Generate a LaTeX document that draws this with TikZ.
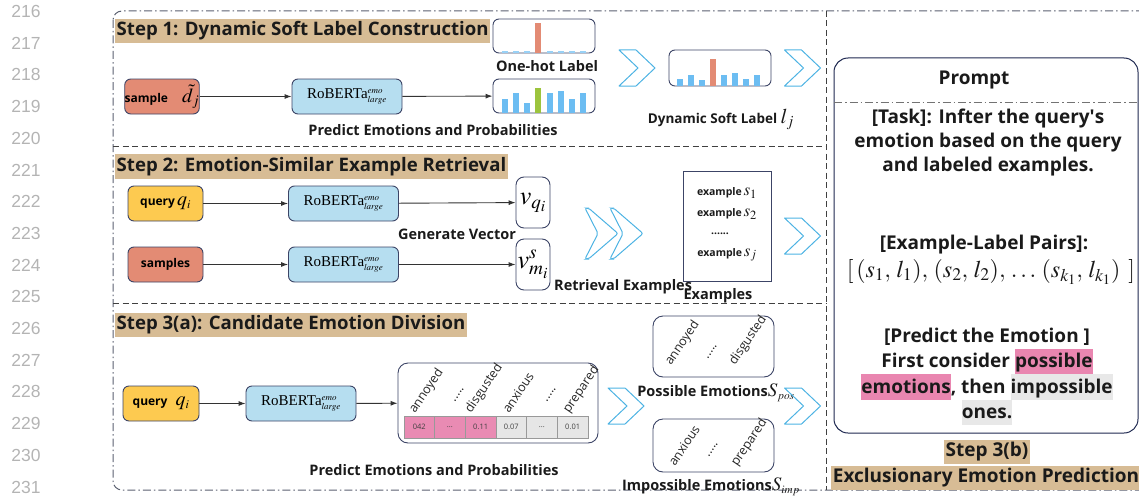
\documentclass[tikz,border=0pt]{standalone}
\usepackage{mathptmx}
\usepackage{amsmath}
\usepackage{fontspec}
\setmainfont{Open Sans}
\newfontfamily\tms{Liberation Serif}
\newfontfamily\numfont{Liberation Sans}
\usetikzlibrary{arrows.meta}

\definecolor{hdrtan}{HTML}{D7BC95}
\definecolor{salmon}{HTML}{E38B74}
\definecolor{qyellow}{HTML}{FDCA50}
\definecolor{robblue}{HTML}{B6DEF0}
\definecolor{nodeline}{HTML}{3C4466}
\definecolor{barblue}{HTML}{6CBDF2}
\definecolor{bargreen}{HTML}{9CC43D}
\definecolor{barred}{HTML}{E38B74}
\definecolor{chevblue}{HTML}{4DB3E3}
\definecolor{framegray}{HTML}{5A6070}
\definecolor{navy}{HTML}{1E2850}
\definecolor{hlpink}{HTML}{E986B0}
\definecolor{hlgray}{HTML}{E8E8E8}
\definecolor{cellpink}{HTML}{E98BB3}
\definecolor{cellgray}{HTML}{E6E6E6}
\definecolor{txt}{HTML}{1A1A1A}
\definecolor{numgray}{HTML}{B4B4B4}

\newcommand\fsz[2]{\fontsize{#1pt}{#2pt}\selectfont}
\newcommand\robm{{\tms RoBERTa}$^{\scriptscriptstyle\mathit{emo}}_{\scriptscriptstyle\mathit{large}}$}
\newcommand\hlp[1]{{\setlength\fboxsep{0pt}\colorbox{hlpink}{\rule[-6.5pt]{0pt}{25.6pt}#1}}}
\newcommand\hlg[1]{{\setlength\fboxsep{0pt}\colorbox{hlgray}{\rule[-6.5pt]{0pt}{25.6pt}#1}}}
\newcommand\celldots{...}
\newcommand\sq{{\addfontfeature{Ligatures=TeXOff}'}}

\begin{document}
\begin{tikzpicture}[x=1pt,y=-1pt,
  hdr/.style={fill=hdrtan, text=txt, font=\fsz{18.6}{22}\bfseries, inner xsep=1.5pt,
    inner ysep=3pt, text height=14pt, text depth=4.5pt},
  box/.style={draw=nodeline, line width=0.9pt, rounded corners=6pt, inner sep=0pt},
  robnode/.style={box, fill=robblue, minimum width=110pt, minimum height=35pt, font=\fsz{15}{16}},
  lbl/.style={text=txt, font=\fsz{14.5}{17}\bfseries, inner sep=0pt},
  ptext/.style={text=txt, font=\fsz{19}{24}\bfseries, inner sep=0pt, align=center},
  arr/.style={-{Latex[length=7pt,width=5pt]}, line width=0.9pt, draw=black!80},
  chevline/.style={draw=chevblue, line width=1pt},
  sepline/.style={draw=black!75, line width=0.9pt, dash pattern=on 6pt off 3.5pt},
  framestyle/.style={draw=framegray, line width=1pt, dash pattern=on 8pt off 3pt on 1.5pt off 3pt},
  cell/.style={draw=black!40, line width=0.6pt, minimum width=30.67pt, minimum height=22pt,
    inner sep=0pt, font=\fsz{7.5}{9}, text=black!75},
  rotlbl/.style={rotate=56, anchor=base west, inner sep=0pt, font=\fsz{12.5}{14}, text=black!85},
  chevron/.pic={\draw[chevline, line join=round] (-18,-18) -- (-1,-18) -- (18,0) -- (-1,18) -- (-18,18) -- (1,0) -- cycle;},
  slimchev/.pic={\draw[chevline, rounded corners=2pt] (-16.5,-25.5) -- (-13,-25.5) -- (16.5,0) -- (-13,25.5) -- (-16.5,25.5) -- (-3.5,0) -- cycle;}
]
\useasboundingbox (0,0) rectangle (1139,495);
\clip (0,0) rectangle (1139,495);

% line numbers in the margin
\foreach \n [count=\k from 0] in {216,217,218,219,220,221,222,223,224,225,226,227,228,229,230,231}
  \node[font=\numfont\fsz{17.5}{20}, text=numgray, inner sep=0pt] (ln\n) at (26,11.5+31.7*\k) {\n};

% outer frame and separators
\draw[framestyle, rounded corners=9pt] (113,11) rectangle (1152,490);
\draw[sepline] (826,11) -- (826,490);
\draw[sepline] (113,146) -- (826,146);
\draw[sepline] (113,303) -- (826,303);

% ---------------- Step 1 ----------------
\node[hdr, anchor=west] (h1) at (115,31) {Step 1: Dynamic Soft Label Construction};
\node[box, fill=salmon, minimum width=74pt, minimum height=35pt] (s1) at (162,96.5)
  {\fsz{12}{14}\bfseries sample\hspace{14pt}{\fsz{20}{20}$\tilde{d}_j$}};
\node[robnode] (rob1) at (347,96.5) {\robm};
\node[box, minimum width=102pt, minimum height=34pt] (pb1) at (544,96) {};
\node[box, minimum width=102pt, minimum height=34pt] (oh) at (544,36) {};
\draw[arr] (s1) -- (rob1);
\draw[arr] (rob1) -- (pb1);
\foreach \h/\cl [count=\i from 0] in {14/barblue,20/barblue,10/barblue,25/bargreen,20/barblue,22/barblue,14/barblue,20/barblue}
  \fill[\cl] (501.7+11.2*\i,112.5) rectangle ++(6,-\h);
\foreach \i in {0,1,2,4,5,6,7}
  \fill[barblue!70] (501.7+11.2*\i,52.6) rectangle ++(6,-1.3);
\fill[barred] (535.3,52.6) rectangle ++(6,-29.6);
\node[lbl] (ohl) at (547,66) {One-hot Label};
\node[lbl] (pep1) at (433,130) {Predict Emotions and Probabilities};

\pic at (637,68) {chevron};
\node[box, minimum width=102pt, minimum height=36pt] (soft) at (720,68) {};
\foreach \h/\cl [count=\i from 0] in {7/barblue,10.6/barblue,6/barblue,27/barred,10.6/barblue,12.7/barblue,7/barblue,10.6/barblue}
  \fill[\cl] (677+11*\i,85.6) rectangle ++(6,-\h);
\pic at (802.5,68) {chevron};
\node[lbl, font=\fsz{13.5}{16}\bfseries] (softl) at (721,119) {Dynamic Soft Label {\fsz{21}{21}$l_j$}};

% ---------------- Prompt ----------------
\node[draw=navy, line width=1pt, rounded corners=14pt, minimum width=304pt, minimum height=375pt] (prompt) at (986,245.5) {};
\draw[framestyle, draw=black!55, line width=0.8pt] (834,102) -- (1138,102);
\node[ptext] (ptitle) at (974,80) {Prompt};
\node[ptext] (ptask) at (988,143) {[Task]: Infter the query\sq s\\emotion based on the query\\and labeled examples.};
\node[ptext] (ppairs) at (984,245) {[Example-Label Pairs]:};
\node[inner sep=0pt, text=txt, font=\fsz{24}{28}] (pmath) at (991,272)
  {$[\,(s_{1},\,l_{1}),\,(s_{2},\,l_{2}),\,\ldots\,(s_{k_1},\,l_{k_1})\;\,]$};
\node[ptext, font=\fsz{19}{25.6}\bfseries] (ppred) at (987,376.5)
  {[Predict the Emotion ]\\First consider \hlp{possible}\\\hlp{emotions}, then \hlg{impossible}\\\hlg{ones.}};
\node[hdr, font=\fsz{19}{22}\bfseries] (s3b) at (987,452) {Step 3(b)};
\node[hdr, font=\fsz{19}{22}\bfseries] (s3bt) at (986,478) {Exclusionary Emotion Prediction};

% ---------------- Step 2 ----------------
\node[hdr, anchor=west] (h2) at (115,166.5) {Step 2: Emotion-Similar Example Retrieval};
\node[box, fill=qyellow, minimum width=75pt, minimum height=35pt] (q2) at (165.5,203.5)
  {\fsz{12}{14}\bfseries query\,{\fsz{20}{20}$q_{\scriptscriptstyle i}$}};
\node[robnode] (rob2) at (343.5,203.5) {\robm};
\node[box, minimum width=34pt, minimum height=51pt, rounded corners=8pt] (vq) at (533,202.5)
  {\fsz{26}{26}$v_{q_{\scriptscriptstyle i}}$};
\node[box, fill=salmon, minimum width=75pt, minimum height=35pt] (smp) at (165.5,264.5)
  {\fsz{12}{14}\bfseries samples};
\node[robnode] (rob3) at (343.5,264.5) {\robm};
\node[box, minimum width=34pt, minimum height=51pt, rounded corners=8pt] (vm) at (533,264.5)
  {\fsz{26}{26}$v^{s}_{m_{\scriptscriptstyle i}}$};
\draw[arr] (q2) -- (rob2);
\draw[arr] (rob2) -- (vq);
\draw[arr] (smp) -- (rob3);
\draw[arr] (rob3) -- (vm);
\node[lbl] (gv) at (457,234) {Generate Vector};
\node[lbl, anchor=west] (rex) at (554,287) {Retrieval Examples};
\pic at (601.5,233.5) {slimchev};
\pic at (626.5,233.5) {slimchev};
\node[draw=nodeline, line width=0.9pt, minimum width=88pt, minimum height=110pt, inner sep=0pt] (exs) at (727,226) {};
\node[inner sep=0pt, text=txt] (ex1) at (727,193) {\fsz{10.5}{12}\bfseries example\,{\fsz{17}{17}$s_{1}$}};
\node[inner sep=0pt, text=txt] (ex2) at (727,214) {\fsz{10.5}{12}\bfseries example\,{\fsz{17}{17}$s_{2}$}};
\node[inner sep=0pt, text=txt, font=\fsz{10.5}{12}\bfseries] (exdots) at (720,234) {......};
\node[inner sep=0pt, text=txt] (exj) at (727,255) {\fsz{10.5}{12}\bfseries example\,{\fsz{17}{17}$s_{j}$}};
\node[lbl] (exl) at (718,296) {Examples};
\pic at (802.5,236) {chevron};

% ---------------- Step 3(a) ----------------
\node[hdr, anchor=west] (h3) at (115,325) {Step 3(a): Candidate Emotion Division};
\node[box, fill=qyellow, minimum width=76pt, minimum height=35pt] (q3) at (161,403.5)
  {\fsz{12}{14}\bfseries query\hspace{8pt}{\fsz{20}{20}$q_{\scriptscriptstyle i}$}};
\node[robnode] (rob4) at (301,403.5) {\robm};
\node[box, minimum width=200pt, minimum height=80pt, rounded corners=10pt] (pb3) at (498,403) {};
\draw[arr] (q3) -- (rob4);
\draw[arr] (rob4) -- (pb3);
\foreach \v/\cl [count=\i from 0] in {042/cellpink,\celldots/cellpink,0.11/cellpink,0.07/cellgray,\celldots/cellgray,0.01/cellgray}
  \node[cell, fill=\cl] (c\i) at (419.3+30.67*\i,427) {\v};
\node[rotlbl] (pa1) at (415,414) {annoyed};
\node[rotlbl, anchor=center] (pa2) at (459,395) {.....};
\node[rotlbl] (pa3) at (471,414) {disgusted};
\node[rotlbl] (pa4) at (509,414) {anxious};
\node[rotlbl, anchor=center] (pa5) at (551,395) {.....};
\node[rotlbl] (pa6) at (569,414) {prepared};
\node[lbl] (pep3) at (434,470) {Predict Emotions and Probabilities};

\node[box, minimum width=121pt, minimum height=61pt, rounded corners=10pt] (pos) at (713.5,346.5) {};
\node[rotlbl] (po1) at (671,366) {annoyed};
\node[rotlbl, anchor=center] (po2) at (712,352) {.....};
\node[rotlbl] (po3) at (735,366) {disgusted};
\node[lbl] (posl) at (716,393) {Possible Emotions{\fsz{19}{19}$S_{\scriptscriptstyle pos}$}};
\node[box, minimum width=121pt, minimum height=53pt, rounded corners=10pt] (imp) at (713.5,445.5) {};
\node[rotlbl] (im1) at (675,467) {anxious};
\node[rotlbl, anchor=center] (im2) at (713,450) {.....};
\node[rotlbl] (im3) at (737,467) {prepared};
\node[lbl] (impl) at (711,487) {Impossible Emotions{\fsz{19}{19}$S_{\scriptscriptstyle imp}$}};
\pic at (626,406) {chevron};
\pic at (802.5,406) {chevron};
\end{tikzpicture}
\end{document}
